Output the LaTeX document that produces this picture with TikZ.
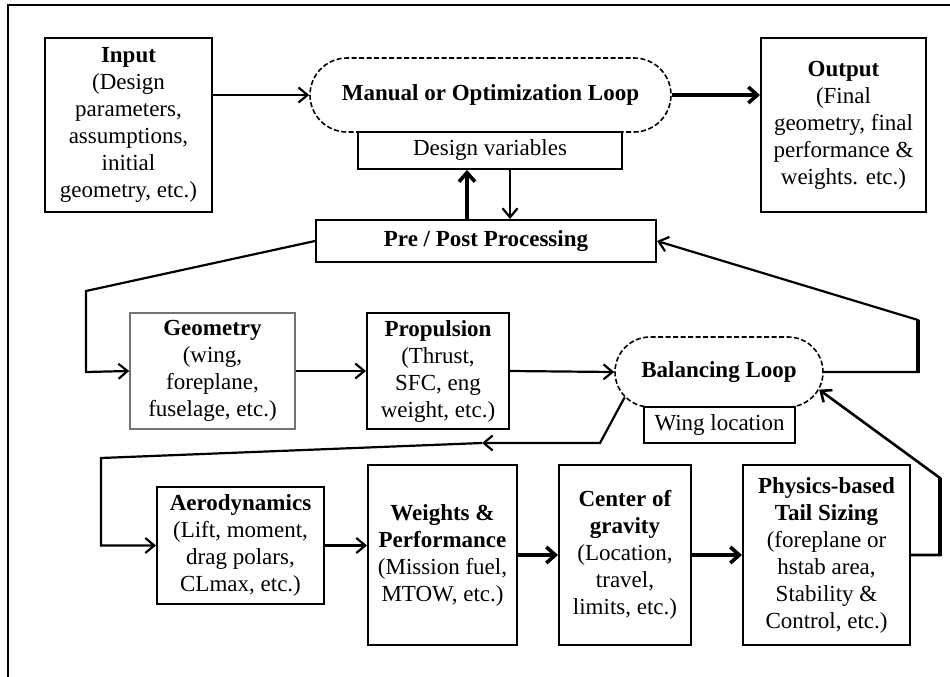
\documentclass[tikz,border=0pt]{standalone}
\usepackage{fontspec}
\setmainfont{Liberation Serif}
\usetikzlibrary{arrows.meta,shapes.misc,calc}
\tikzset{
  box/.style={draw, line width=2pt, align=center, inner sep=2pt, fill=white,
    font=\fontsize{23}{27}\selectfont},
  loopbox/.style={draw, rounded rectangle, dash pattern=on 5pt off 2.5pt, line width=1.6pt,
    fill=white, inner sep=2pt, font=\fontsize{23}{27}\selectfont\bfseries},
  arr/.style={line width=2.2pt, -{Straight Barb[length=9pt,width=15pt]}},
  tarr/.style={line width=3.6pt, -{Straight Barb[length=9pt,width=16pt]}},
  conn/.style={line width=2.2pt}
}
\begin{document}
\begin{tikzpicture}[x=1pt,y=-1pt]
\useasboundingbox (0,0) rectangle (950,677);
% frame
\draw[line width=2pt] (8,677) -- (8,5) -- (950,5);

% top row
\node[box, minimum width=167pt, minimum height=174pt] (input) at (128.5,125)
  {\textbf{Input}\\(Design\\parameters,\\assumptions,\\initial\\geometry, etc.)};
\node[loopbox, minimum width=365pt, minimum height=74pt] (manual) at (490.5,95)
  {Manual or Optimization Loop};
\node[box, minimum width=264pt, minimum height=37pt] (dv) at (490,150.5) {Design variables};
\node[box, minimum width=340pt, minimum height=42pt] (pre) at (486,241)
  {\textbf{Pre / Post Processing}};
\node[box, minimum width=165pt, minimum height=174pt] (output) at (843.5,125)
  {\textbf{Output}\\(Final\\geometry, final\\performance \&\\weights. etc.)};

% middle row
\node[box, draw=black!55, line width=1.6pt, minimum width=165pt, minimum height=116pt] (geom) at (212.5,371)
  {\textbf{Geometry}\\(wing,\\foreplane,\\fuselage, etc.)};
\node[box, minimum width=142pt, minimum height=116pt] (prop) at (438,371)
  {\textbf{Propulsion}\\(Thrust,\\SFC, eng\\weight, etc.)};
\node[loopbox, minimum width=212pt, minimum height=70pt] (bal) at (719,372) {Balancing Loop};
\node[box, minimum width=151pt, minimum height=36pt] (wing) at (719.5,425) {Wing location};

% bottom row
\node[box, minimum width=167pt, minimum height=117pt] (aero) at (240.5,545.5)
  {\textbf{Aerodynamics}\\(Lift, moment,\\drag polars,\\CLmax, etc.)};
\node[box, minimum width=149pt, minimum height=180pt] (wp) at (442.5,555)
  {\textbf{Weights \&}\\\textbf{Performance}\\(Mission fuel,\\MTOW, etc.)};
\node[box, minimum width=132pt, minimum height=180pt] (cog) at (625,555)
  {\textbf{Center of}\\\textbf{gravity}\\(Location,\\travel,\\limits, etc.)};
\node[box, minimum width=167pt, minimum height=180pt] (phys) at (826.5,555)
  {\textbf{Physics-based}\\\textbf{Tail Sizing}\\(foreplane or\\hstab area,\\Stability \&\\Control, etc.)};

% connectors
\draw[arr] (input.east |- manual.west) -- (manual.west);
\draw[tarr] (manual.east) -- (manual.east -| output.west);
\draw[tarr] ([xshift=-19pt]pre.north) -- ([xshift=-19pt]pre.north |- dv.south);
\draw[arr] ([xshift=24pt]pre.north |- dv.south) -- ([xshift=24pt]pre.north);
\draw[arr] (pre.west) -- (86,291) -- (86,372) -- (geom.west);
\draw[arr] (geom.east) -- (prop.west);
\draw[arr] (prop.east) -- (bal.west);
\draw[arr] (bal.east) -- (918,372) -- (918,320) -- (pre.east);
\draw[line width=3.6pt] (918,373) -- (918,320);
\coordinate (mid) at (482,443);
\draw[arr] (bal.195) -- (600,443) -- (mid);
\draw[arr] (mid) -- (101,458) |- (aero.west);
\draw[arr] (aero.east) -- (aero.east -| wp.west);
\draw[tarr] (wp.east) -- (cog.west);
\draw[tarr] (cog.east) -- (phys.west);
\draw[arr, line width=2.6pt] (phys.east) -- (940,555) -- (940,478) -- (bal.-10);
\draw[line width=3.8pt] (940,556) -- (940,478);
\end{tikzpicture}
\end{document}
